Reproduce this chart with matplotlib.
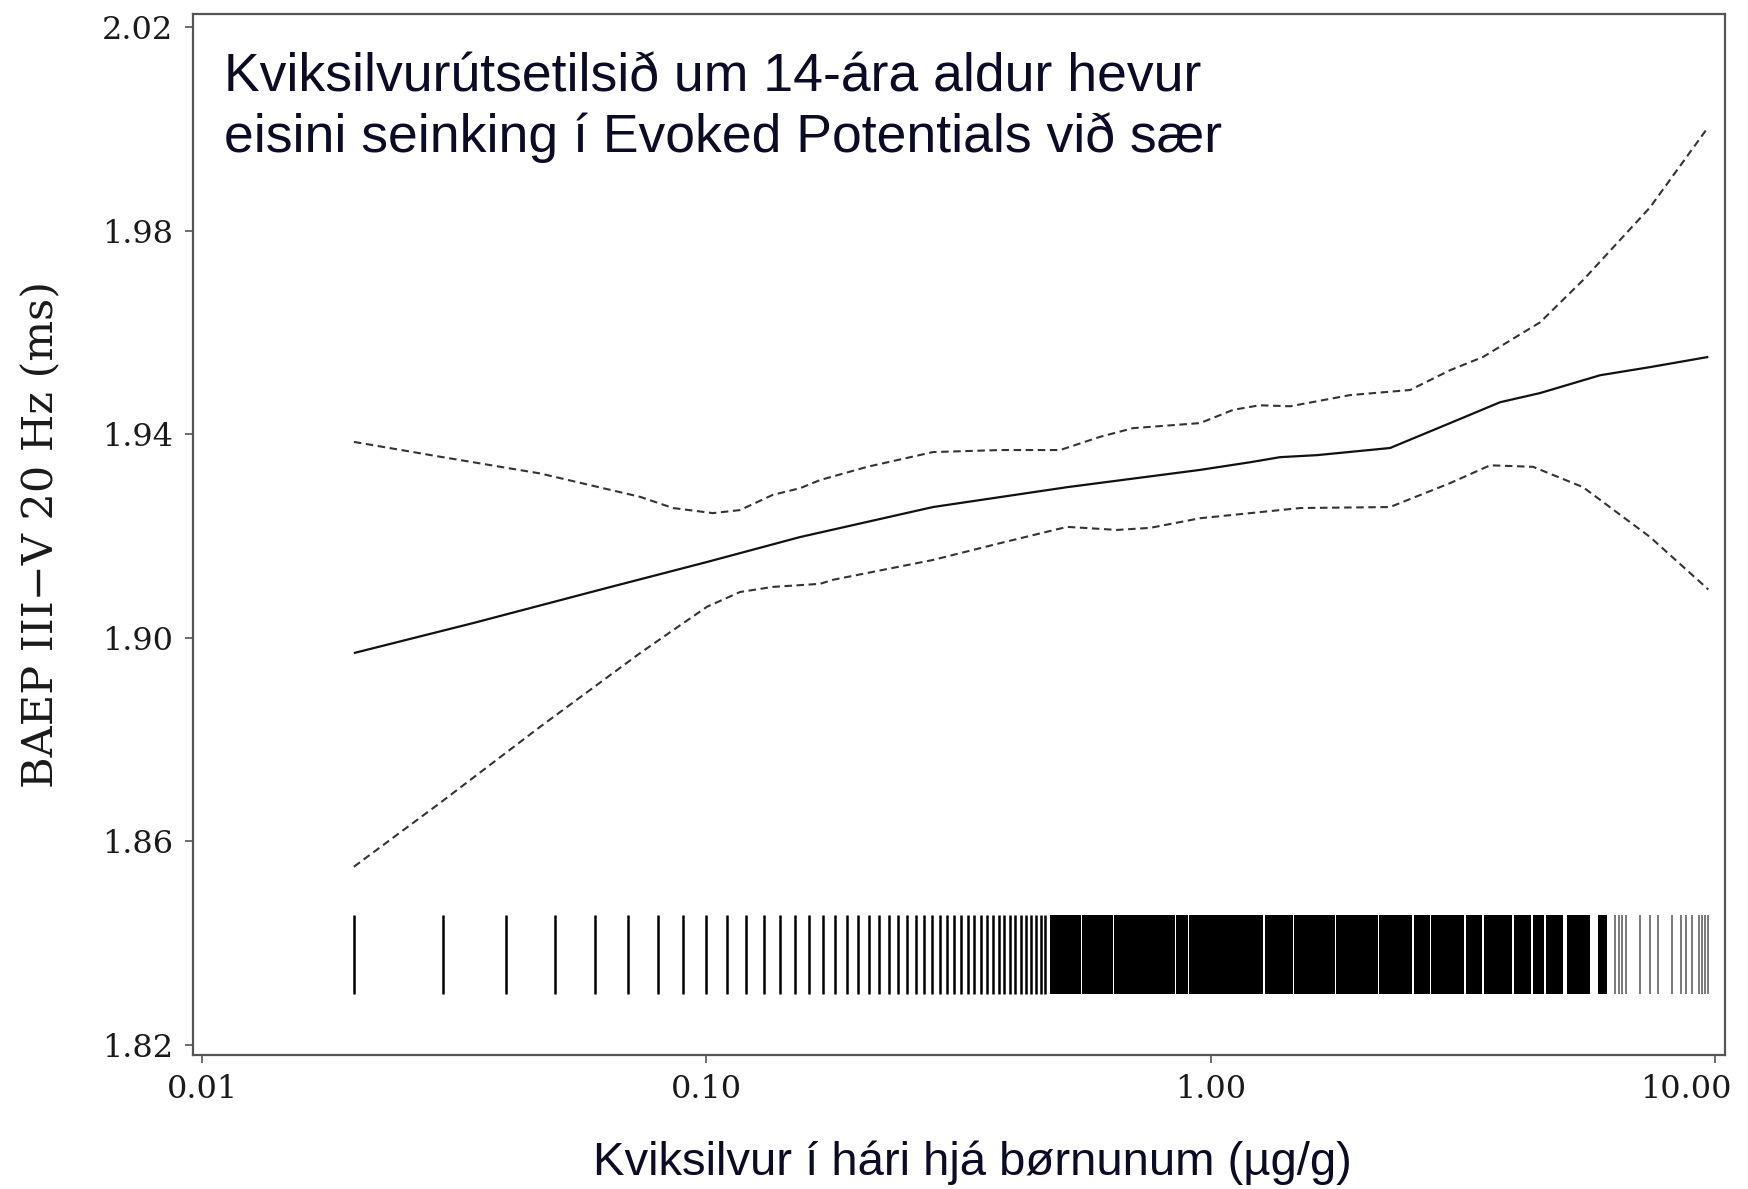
import matplotlib
matplotlib.use("Agg")
import matplotlib.pyplot as plt
from matplotlib.ticker import NullLocator
from matplotlib.transforms import ScaledTranslation

# fitted curve (solid) - hair mercury (ug/g) vs BAEP III-V latency (ms)
fit_x = [0.02, 0.0345, 0.0635, 0.1003, 0.1534, 0.2815, 0.519, 0.953, 1.197,
         1.373, 1.626, 2.268, 2.984, 3.749, 4.499, 5.917, 7.434, 9.7]
fit_y = [1.8970, 1.9029, 1.9098, 1.9149, 1.9198, 1.9257, 1.9296, 1.9330, 1.9345,
         1.9355, 1.9359, 1.9373, 1.9422, 1.9463, 1.9481, 1.9516, 1.9532, 1.9552]

# upper confidence band (dashed)
upper_x = [0.02, 0.0296, 0.0468, 0.0739, 0.0859, 0.103, 0.1166, 0.1355, 0.1534,
           0.168, 0.2084, 0.2815, 0.3823, 0.5027, 0.6035, 0.7016, 0.953, 1.108,
           1.25, 1.437, 1.89, 2.485, 2.984, 3.468, 4.499, 5.475, 7.434, 9.7]
upper_y = [1.9385, 1.9356, 1.9323, 1.9277, 1.9255, 1.9245, 1.9251, 1.9281, 1.9294,
           1.9310, 1.9336, 1.9365, 1.9369, 1.9369, 1.9395, 1.9412, 1.9422, 1.9448,
           1.9457, 1.9455, 1.9477, 1.9487, 1.9526, 1.9552, 1.9620, 1.9703, 1.9846, 2.0004]

# lower confidence band (dashed)
lower_x = [0.02, 0.0296, 0.0468, 0.0739, 0.0859, 0.1003, 0.1166, 0.1355, 0.168,
           0.1783, 0.2815, 0.3823, 0.519, 0.652, 0.758, 0.953, 1.373, 1.504,
           2.268, 2.984, 3.581, 4.358, 5.475, 7.434, 9.7]
lower_y = [1.8550, 1.8675, 1.8825, 1.8970, 1.9015, 1.9061, 1.9090, 1.9100, 1.9106,
           1.9114, 1.9153, 1.9186, 1.9218, 1.9212, 1.9216, 1.9235, 1.9251, 1.9255,
           1.9257, 1.9304, 1.9339, 1.9336, 1.9296, 1.9198, 1.9095]

# rug: observed hair mercury values (sparse part)
rug_low = [0.02, 0.03, 0.04, 0.05, 0.06, 0.07, 0.08, 0.09, 0.10, 0.11, 0.12,
           0.13, 0.14, 0.15, 0.16, 0.17, 0.18, 0.19, 0.20, 0.21, 0.22, 0.23,
           0.24, 0.25, 0.26, 0.27, 0.28, 0.29, 0.30, 0.31, 0.32, 0.33, 0.34,
           0.35, 0.36, 0.37, 0.38, 0.39, 0.40, 0.41, 0.42, 0.43, 0.44, 0.45,
           0.46, 0.47]
rug_high = [6.33, 6.45, 6.55, 6.65, 7.10, 7.43, 7.70, 8.22, 8.55, 8.75, 9.02,
            9.28, 9.42, 9.55, 9.68]
# rug: stretches where observations are so dense they merge into solid black
rug_blocks = [(0.48, 0.5535), (0.5565, 0.639), (0.643, 0.848), (0.852, 0.901),
              (0.905, 1.271), (1.279, 1.455), (1.463, 1.760), (1.770, 2.144),
              (2.156, 2.512), (2.526, 2.716), (2.730, 3.186), (3.204, 3.458),
              (3.478, 3.966), (3.988, 4.326), (4.350, 4.590), (4.616, 4.795),
              (4.805, 4.99), (5.09, 5.375), (5.385, 5.65), (5.87, 6.11)]
rug_bottom, rug_top = 1.830, 1.8455

xticks = [0.01, 0.1, 1.0, 10.0]
xtick_labels = ['0.01', '0.10', '1.00', '10.00']
yticks = [1.82, 1.86, 1.90, 1.94, 1.98, 2.02]
ytick_labels = ['1.82', '1.86', '1.90', '1.94', '1.98', '2.02']

title_txt = 'Kviksilvurútsetilsið um 14-ára aldur hevur\neisini seinking í Evoked Potentials við sær'
xlabel_txt = 'Kviksilvur í hári hjá børnunum (µg/g)'
ylabel_txt = 'BAEP III\u2212V 20 Hz (ms)'

navy = '#0b0b26'
frame = '#555555'

fig = plt.figure(figsize=(17.48, 11.89), dpi=100)
ax = fig.add_axes([193 / 1748, 1 - 1055 / 1189, (1725 - 193) / 1748, (1055 - 14) / 1189])

ax.set_xscale('log')
ax.set_xlim(10 ** -2.018, 10 ** 1.0198)
ax.set_ylim(1.818, 2.0226)

ax.plot(fit_x, fit_y, color='#111111', lw=1.6, solid_capstyle='butt', solid_joinstyle='round')
ax.plot(upper_x, upper_y, color='#333333', lw=1.5, dashes=(3.6, 2.2))
ax.plot(lower_x, lower_y, color='#333333', lw=1.5, dashes=(3.6, 2.2))

ax.vlines(rug_low, rug_bottom, rug_top, color='black', lw=1.8)
ax.vlines(rug_high, rug_bottom, rug_top, color='#555555', lw=1.1)
ax.broken_barh([(a, b - a) for a, b in rug_blocks], (rug_bottom, rug_top - rug_bottom),
               facecolor='black', edgecolor='none')

ax.set_xticks(xticks)
ax.set_xticklabels(xtick_labels)
ax.xaxis.set_minor_locator(NullLocator())
ax.set_yticks(yticks)
ax.set_yticklabels(ytick_labels)

for s in ax.spines.values():
    s.set_color(frame)
    s.set_linewidth(1.6)

ax.tick_params(axis='both', direction='out', length=6, width=1.2, color=frame,
               labelsize=23, labelcolor='#1a1a1a', pad=8)
for lbl in ax.get_xticklabels() + ax.get_yticklabels():
    lbl.set_fontfamily('DejaVu Serif')

# last x label sits shifted left, as in the original
last = ax.get_xticklabels()[-1]
last.set_transform(last.get_transform() + ScaledTranslation(-0.29, 0, fig.dpi_scale_trans))

fig.text(224 / 1748, 1 - 52 / 1189, title_txt, ha='left', va='top', fontsize=38.5,
         family='Liberation Sans', color=navy, linespacing=1.25)
fig.text(972 / 1748, 1 - 1163 / 1189, xlabel_txt, ha='center', va='center', fontsize=34,
         family='Liberation Sans', color=navy)
fig.text(41 / 1748, 1 - 535 / 1189, ylabel_txt, ha='center', va='center', rotation=90,
         fontsize=31, family='DejaVu Serif', color='#1a1a1a')

fig.savefig('out.png', dpi=100, facecolor='white')
